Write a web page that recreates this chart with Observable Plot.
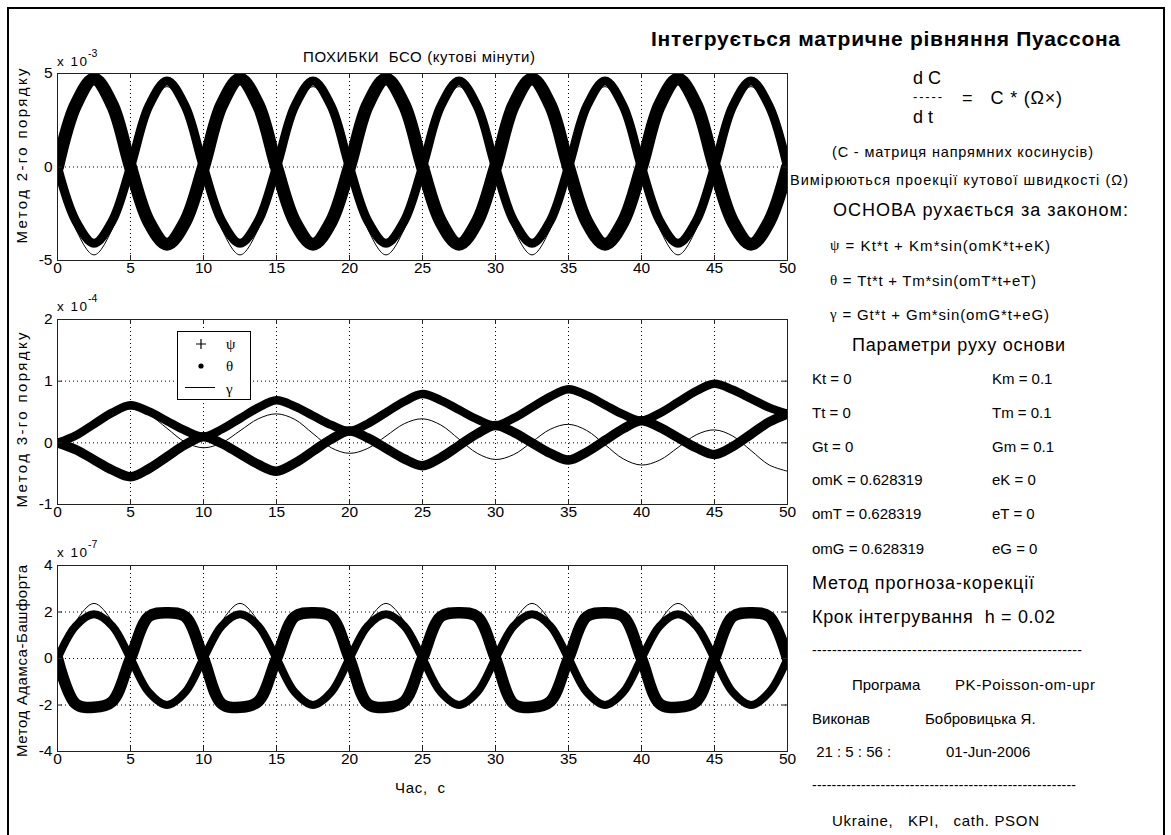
<!DOCTYPE html>
<html>
<head>
<meta charset="utf-8">
<script src="https://cdn.jsdelivr.net/npm/d3@7"></script>
<script src="https://cdn.jsdelivr.net/npm/@observablehq/plot@0.6"></script>
<style>
  html, body { margin: 0; padding: 0; background: #fff; }
  #fig { position: relative; width: 1171px; height: 835px; overflow: hidden; background: #fff;
         font-family: "Liberation Sans", Arial, Helvetica, sans-serif; }
  #fig > svg { position: absolute; left: 0; }
  #frame { position: absolute; left: 7px; top: 7px; width: 1158px; height: 840px;
           border: 2px solid #000; box-sizing: border-box; }
</style>
</head>
<body>
<div id="fig"><div id="frame"></div></div>
<script>
// ---- time samples, s ----
const time = [0, 1.25, 2.5, 3.75, 5, 6.25, 7.5, 8.75, 10, 11.25, 12.5, 13.75, 15, 16.25, 17.5, 18.75,
  20, 21.25, 22.5, 23.75, 25, 26.25, 27.5, 28.75, 30, 31.25, 32.5, 33.75, 35, 36.25, 37.5, 38.75,
  40, 41.25, 42.5, 43.75, 45, 46.25, 47.5, 48.75, 50];

// ---- Метод 2-го порядку, x 10^-3 ----
const psiM2 = [0, 3.32, 4.7, 3.32, 0, -2.92, -4.13, -2.92,
  0, 3.32, 4.7, 3.32, 0, -2.92, -4.13, -2.92,
  0, 3.32, 4.7, 3.32, 0, -2.92, -4.13, -2.92,
  0, 3.32, 4.7, 3.32, 0, -2.92, -4.13, -2.92,
  0, 3.32, 4.7, 3.32, 0, -2.92, -4.13, -2.92, 0];
const thetaM2 = [0, -2.88, -4.08, -2.88, 0, 3.25, 4.6, 3.25,
  0, -2.88, -4.08, -2.88, 0, 3.25, 4.6, 3.25,
  0, -2.88, -4.08, -2.88, 0, 3.25, 4.6, 3.25,
  0, -2.88, -4.08, -2.88, 0, 3.25, 4.6, 3.25,
  0, -2.88, -4.08, -2.88, 0, 3.25, 4.6, 3.25, 0];
const gammaM2 = [0, -3.32, -4.7, -3.32, 0, 3.04, 4.3, 3.04,
  0, -3.32, -4.7, -3.32, 0, 3.04, 4.3, 3.04,
  0, -3.32, -4.7, -3.32, 0, 3.04, 4.3, 3.04,
  0, -3.32, -4.7, -3.32, 0, 3.04, 4.3, 3.04,
  0, -3.32, -4.7, -3.32, 0, 3.04, 4.3, 3.04, 0];

// ---- Метод 3-го порядку, x 10^-4 ----
const psiM3 = [0, 0.12, 0.305, 0.49, 0.61, 0.51, 0.355, 0.20, 0.10, 0.22, 0.395, 0.57, 0.69, 0.59, 0.44, 0.29,
  0.19, 0.31, 0.49, 0.67, 0.79, 0.69, 0.535, 0.38, 0.28, 0.40, 0.575, 0.75, 0.87, 0.77, 0.615, 0.46,
  0.36, 0.48, 0.66, 0.84, 0.96, 0.86, 0.715, 0.57, 0.47];
const thetaM3 = [0, -0.11, -0.275, -0.44, -0.55, -0.42, -0.225, -0.03, 0.10, -0.01, -0.18, -0.35, -0.46, -0.33, -0.135, 0.06,
  0.19, 0.08, -0.09, -0.26, -0.37, -0.24, -0.045, 0.15, 0.28, 0.17, 0.0, -0.17, -0.28, -0.15, 0.04, 0.23,
  0.36, 0.25, 0.085, -0.08, -0.19, -0.06, 0.14, 0.34, 0.47];
const gammaM3 = [0, 0.08, 0.275, 0.47, 0.55, 0.46, 0.235, 0.01, -0.08, 0.0, 0.195, 0.39, 0.47, 0.38, 0.15, -0.08,
  -0.17, -0.09, 0.11, 0.31, 0.39, 0.29, 0.06, -0.17, -0.27, -0.19, 0.015, 0.22, 0.30, 0.20, -0.03, -0.26,
  -0.36, -0.28, -0.075, 0.13, 0.21, 0.11, -0.125, -0.36, -0.46];

// ---- Метод Адамса-Башфорта, x 10^-7 ----
const psiAB = [0, -1.95, -2.1, -1.85, 0, 1.8, 1.97, 1.8,
  0, -1.95, -2.1, -1.85, 0, 1.8, 1.97, 1.8,
  0, -1.95, -2.1, -1.85, 0, 1.8, 1.97, 1.8,
  0, -1.95, -2.1, -1.85, 0, 1.8, 1.97, 1.8,
  0, -1.95, -2.1, -1.85, 0, 1.8, 1.97, 1.8, 0];
const thetaAB = [0, 1.4, 1.9, 1.4, 0, -1.45, -2.0, -1.45,
  0, 1.4, 1.9, 1.4, 0, -1.45, -2.0, -1.45,
  0, 1.4, 1.9, 1.4, 0, -1.45, -2.0, -1.45,
  0, 1.4, 1.9, 1.4, 0, -1.45, -2.0, -1.45,
  0, 1.4, 1.9, 1.4, 0, -1.45, -2.0, -1.45, 0];
const gammaAB = [0, 1.6, 2.37, 1.6, 0, -1.45, -2.0, -1.45,
  0, 1.6, 2.37, 1.6, 0, -1.45, -2.0, -1.45,
  0, 1.6, 2.37, 1.6, 0, -1.45, -2.0, -1.45,
  0, 1.6, 2.37, 1.6, 0, -1.45, -2.0, -1.45,
  0, 1.6, 2.37, 1.6, 0, -1.45, -2.0, -1.45, 0];

// ---- ticks ----
const xTicks = [0, 5, 10, 15, 20, 25, 30, 35, 40, 45, 50];
const yTicksM2 = [-5, 0, 5];
const yTicksM3 = [-1, 0, 1, 2];
const yTicksAB = [-4, -2, 0, 2, 4];

// ---- texts ----
const panelTitle = "ПОХИБКИ  БСО (кутові мінути)";
const yLabels = ["Метод 2-го порядку", "Метод 3-го порядку", "Метод Адамса-Башфорта"];
const exponents = ["-3", "-4", "-7"];
const xLabel = "Час,  с";
const legendNames = ["ψ", "θ", "γ"];
const mainTitle = "Інтегрується матричне рівняння Пуассона";
const lawGreek = ["ψ", "θ", "γ"];
const lawRest = [" = Kt*t + Km*sin(omK*t+eK)", " = Tt*t + Tm*sin(omT*t+eT)", " = Gt*t + Gm*sin(omG*t+eG)"];
const paramLeft = ["Kt = 0", "Tt = 0", "Gt = 0", "omK = 0.628319", "omT = 0.628319", "omG = 0.628319"];
const paramRight = ["Km = 0.1", "Tm = 0.1", "Gm = 0.1", "eK = 0", "eT = 0", "eG = 0"];
const dashes = "------------------------------------------------------";

const SANS = "'Liberation Sans', Arial, Helvetica, sans-serif";
const SERIF = "'Liberation Serif', 'Times New Roman', serif";
const fig = document.getElementById("fig");

const rowsOf = (vals) => time.map((t, i) => ({t, v: vals[i]}));

// one subplot: axes box 57..787 horizontally, plot height h
function panel({top, h, yDomain, yTicks, series}) {
  const mt = 12, mb = 24, W = 800, ml = 57, mr = 13, w = W - ml - mr;
  const hyphen = (d) => String(d);
  const marks = [
    Plot.ruleX(xTicks.slice(1, -1), {x: (d) => d, stroke: "#000", strokeWidth: 1, strokeDasharray: "1,3"}),
    Plot.ruleY(yTicks.slice(1, -1), {y: (d) => d, stroke: "#000", strokeWidth: 1, strokeDasharray: "1,3"}),
    ...series.map(([vals, sw]) => Plot.line(rowsOf(vals), {
      x: "t", y: "v", stroke: "#000", strokeWidth: sw, curve: "catmull-rom", clip: true
    })),
    Plot.frame({stroke: "#222", strokeWidth: 1}),
    Plot.tickX(xTicks, {x: (d) => d, stroke: "#222", insetTop: h - 5}),
    Plot.tickX(xTicks, {x: (d) => d, stroke: "#222", insetBottom: h - 5}),
    Plot.tickY(yTicks, {y: (d) => d, stroke: "#222", insetRight: w - 5}),
    Plot.tickY(yTicks, {y: (d) => d, stroke: "#222", insetLeft: w - 5}),
    Plot.axisX({ticks: xTicks, tickSize: 0, tickPadding: 1, label: null, tickFormat: hyphen, fontSize: 15.5}),
    Plot.axisY({ticks: yTicks, tickSize: 0, tickPadding: 5, label: null, tickFormat: hyphen, fontSize: 15.5})
  ];
  const svg = Plot.plot({
    width: W, height: mt + h + mb,
    marginLeft: ml, marginRight: mr, marginTop: mt, marginBottom: mb,
    x: {domain: [0, 50]},
    y: {domain: yDomain},
    style: {fontFamily: SANS, fontSize: "15.5px", color: "#000", background: "transparent", overflow: "visible"},
    marks
  });
  svg.style.position = "absolute";
  svg.style.left = "0px";
  svg.style.top = (top - mt) + "px";
  fig.appendChild(svg);
}

panel({top: 73, h: 187, yDomain: [-5, 5], yTicks: yTicksM2,
  series: [[psiM2, 13], [thetaM2, 9], [gammaM2, 1]]});
panel({top: 319, h: 185, yDomain: [-1, 2], yTicks: yTicksM3,
  series: [[psiM3, 8.5], [thetaM3, 9.5], [gammaM3, 1]]});
panel({top: 565, h: 186, yDomain: [-4, 4], yTicks: yTicksAB,
  series: [[psiAB, 11.5], [thetaAB, 8], [gammaAB, 1]]});

// ---- annotation layer ----
const ov = d3.select(fig).append("svg")
  .attr("width", 1171).attr("height", 835)
  .style("top", "0px").style("font-family", SANS);

function put(str, x, y, o = {}) {
  const t = ov.append("text").attr("x", x).attr("y", y)
    .attr("dominant-baseline", "central")
    .attr("font-size", o.size || 15)
    .attr("font-weight", o.weight || "normal")
    .attr("text-anchor", o.anchor || "start")
    .attr("fill", "#000")
    .style("white-space", "pre");
  if (o.family) t.attr("font-family", o.family);
  if (o.len) t.attr("textLength", o.len).attr("lengthAdjust", "spacing");
  if (o.rotate) t.attr("transform", `rotate(${o.rotate} ${x} ${y})`);
  t.text(str);
  return t;
}

// subplot captions
put(panelTitle, 303, 56, {size: 15, len: 232});
const expY = [61, 306, 552];
expY.forEach((y, i) => {
  put("x 10", 57, y, {size: 13.5, len: 30});
  put(exponents[i], 88, y - 8, {size: 10.5});
});
const yLabelY = [156, 420, 661];
const yLabelLen = [175, 175, 192];
yLabels.forEach((s, i) => put(s, 21, yLabelY[i], {size: 15, anchor: "middle", rotate: -90, len: yLabelLen[i]}));
put(xLabel, 395, 787, {size: 15, len: 50});

// legend of the middle subplot
const lg = ov.append("g");
lg.append("rect").attr("x", 177.5).attr("y", 331.5).attr("width", 73).attr("height", 68)
  .attr("fill", "#fff").attr("stroke", "#000");
lg.append("path").attr("d", "M196,344H206M201,339V349").attr("stroke", "#000").attr("stroke-width", 1.2);
lg.append("circle").attr("cx", 201).attr("cy", 366).attr("r", 2.6).attr("fill", "#000");
lg.append("line").attr("x1", 185).attr("x2", 215).attr("y1", 387.5).attr("y2", 387.5).attr("stroke", "#000");
legendNames.forEach((s, i) => put(s, 226, [344, 366, 389][i], {size: 15, family: SERIF}));

// right-hand description
put(mainTitle, 651, 38, {size: 21, weight: "bold", len: 469});
put("d C", 913, 78, {size: 18});
put("-----", 913, 96, {size: 13, len: 29});
put("d t", 913, 117, {size: 18});
put("=   C * (Ω×)", 962, 98, {size: 18, len: 100});
put("(С - матриця напрямних косинусів)", 832, 152, {size: 14.5, len: 261});
put("Вимірюються проекції кутової швидкості (Ω)", 790, 180, {size: 14.5, len: 338});
put("ОСНОВА рухається за законом:", 833, 210, {size: 18, len: 295});

const lawY = [245, 280, 314];
const lawLen = [220, 206, 219];
lawRest.forEach((s, i) => {
  const t = put("", 830, lawY[i], {size: 15, len: lawLen[i]});
  t.append("tspan").attr("font-family", SERIF).text(lawGreek[i]);
  t.append("tspan").text(s);
});

put("Параметри руху основи", 852, 345, {size: 18, len: 213});
const paramY = [378, 412, 446, 479, 513, 548];
paramLeft.forEach((s, i) => put(s, 812, paramY[i], {size: 15}));
paramRight.forEach((s, i) => put(s, 992, paramY[i], {size: 15}));

put("Метод прогноза-корекції", 812, 583, {size: 18, len: 222});
put("Крок інтегрування  h = 0.02", 812, 617, {size: 18, len: 243});
put(dashes, 812, 650, {size: 14, len: 270});
put("Програма", 852, 684, {size: 15});
put("PK-Poisson-om-upr", 955, 684, {size: 15, len: 140});
put("Виконав", 812, 718, {size: 15});
put("Бобровицька Я.", 925, 718, {size: 15});
put(" 21 : 5 : 56 :", 812, 751, {size: 15});
put("01-Jun-2006", 946, 751, {size: 15});
put(dashes, 812, 785, {size: 14, len: 264});
put("Ukraine,   KPI,   cath. PSON", 832, 820, {size: 15, len: 207});
</script>
</body>
</html>
